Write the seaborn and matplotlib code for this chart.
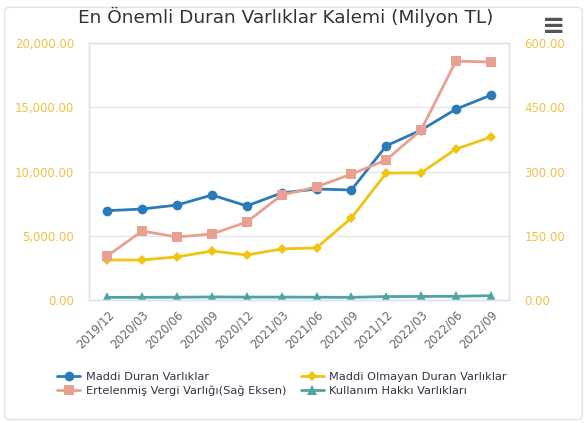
import numpy as np
import pandas as pd
import matplotlib
matplotlib.use("Agg")
import matplotlib.pyplot as plt
import seaborn as sns
from matplotlib.patches import FancyBboxPatch

# %% Dados
donemler = ["2019/12", "2020/03", "2020/06", "2020/09", "2020/12", "2021/03",
            "2021/06", "2021/09", "2021/12", "2022/03", "2022/06", "2022/09"]
maddi_duran = [6950, 7080, 7390, 8170, 7320, 8330, 8640, 8560, 12000, 13230, 14860, 15950]
maddi_olmayan = [3110, 3110, 3350, 3810, 3500, 3970, 4050, 6380, 9880, 9900, 11750, 12680]
ertelenmis_vergi = [103, 161, 147, 154, 182, 245, 264, 294, 327, 397, 558, 556]
kullanim_hakki = [200, 200, 210, 230, 220, 220, 210, 200, 260, 270, 280, 330]

df = pd.DataFrame({
    "donem": donemler,
    "x": np.arange(len(donemler)),
    "maddi_duran": maddi_duran,
    "maddi_olmayan": maddi_olmayan,
    "ertelenmis": ertelenmis_vergi,
    "kullanim": kullanim_hakki,
})

# %% Stil
sns.set_theme(style="white")
plt.rcParams['font.family'] = ['DejaVu Sans']

fig = plt.figure(figsize=(5.87, 4.23), dpi=100)
ax = fig.add_axes([0.152, 0.291, 0.715, 0.607])
ax2 = ax.twinx()

mavi = "#2b7bba"
sari = "#f1c40f"
somon = "#e8a090"
turkuaz = "#4ea3a3"

sns.lineplot(data=df, x="x", y="maddi_duran", ax=ax, color=mavi, marker="o",
             markersize=7, markeredgewidth=0, linewidth=2, label="Maddi Duran Varlıklar", legend=False)
sns.lineplot(data=df, x="x", y="maddi_olmayan", ax=ax, color=sari, marker="D",
             markersize=5, markeredgewidth=0, linewidth=2, label="Maddi Olmayan Duran Varlıklar", legend=False)
sns.lineplot(data=df, x="x", y="kullanim", ax=ax, color=turkuaz, marker="^",
             markersize=7, markeredgewidth=0, linewidth=2, label="Kullanım Hakkı Varlıkları", legend=False)
sns.lineplot(data=df, x="x", y="ertelenmis", ax=ax2, color=somon, marker="s",
             markersize=7, markeredgewidth=0, linewidth=2, label="Ertelenmiş Vergi Varlığı(Sağ Eksen)", legend=False)

# %% Eksenler
ax.set_xlim(-0.52, 11.52)
ax.set_ylim(0, 20000)
ax2.set_ylim(0, 600)
ax.set_yticks(np.arange(0, 20001, 5000))
ax2.set_yticks(np.arange(0, 601, 150))
ax.set_yticklabels([f"{v:,.2f}" for v in np.arange(0, 20001, 5000)])
ax2.set_yticklabels([f"{v:,.2f}" for v in np.arange(0, 601, 150)])
ax.set_xticks(df["x"])
ax.set_xticklabels(donemler, rotation=45, ha="right", rotation_mode="anchor")

tik_renk = "#f0c24a"
ax.tick_params(axis="y", colors=tik_renk, labelsize=8.5, length=0, pad=11)
ax2.tick_params(axis="y", colors=tik_renk, labelsize=8.5, length=0, pad=11)
ax.tick_params(axis="x", colors="#666666", labelsize=8.3, length=0, pad=6)
for lab in ax.get_xticklabels():
    lab.set_color("#666666")

ax.set_xlabel("")
ax.set_ylabel("")
ax2.set_ylabel("")
ax.yaxis.grid(True, color="#e6e6e6", linewidth=1)
ax.set_axisbelow(True)
for a in (ax, ax2):
    for s in a.spines.values():
        s.set_color("#dde3f0")
        s.set_linewidth(1)
ax2.patch.set_visible(False)

# %% Başlık, menü ve çerçeve
fig.text(0.487, 0.96, "En Önemli Duran Varlıklar Kalemi (Milyon TL)", ha="center", va="center",
         fontsize=13.3, color="#333333")
fig.text(0.943, 0.938, "≡", ha="center", va="center", fontsize=20, color="#555555", fontweight="bold")
fig.patches.append(FancyBboxPatch((0.008, 0.008), 0.984, 0.975, boxstyle="round,pad=0,rounding_size=0.01",
                                  transform=fig.transFigure, fill=False, edgecolor="#e3e3e3", linewidth=1))

# %% Lejant
h1, l1 = ax.get_legend_handles_labels()
h2, l2 = ax2.get_legend_handles_labels()
sira = [h1[0], h2[0], h1[1], h1[2]]
etiket = [l1[0], l2[0], l1[1], l1[2]]
leg = fig.legend(sira, etiket, ncol=2, loc="upper left", bbox_to_anchor=(0.08, 0.145),
                 frameon=False, fontsize=8.2, handlelength=2.0, columnspacing=1.3,
                 labelspacing=0.35, handletextpad=0.5)
for t in leg.get_texts():
    t.set_color("#333344")

fig.savefig("out.png", dpi=100)
